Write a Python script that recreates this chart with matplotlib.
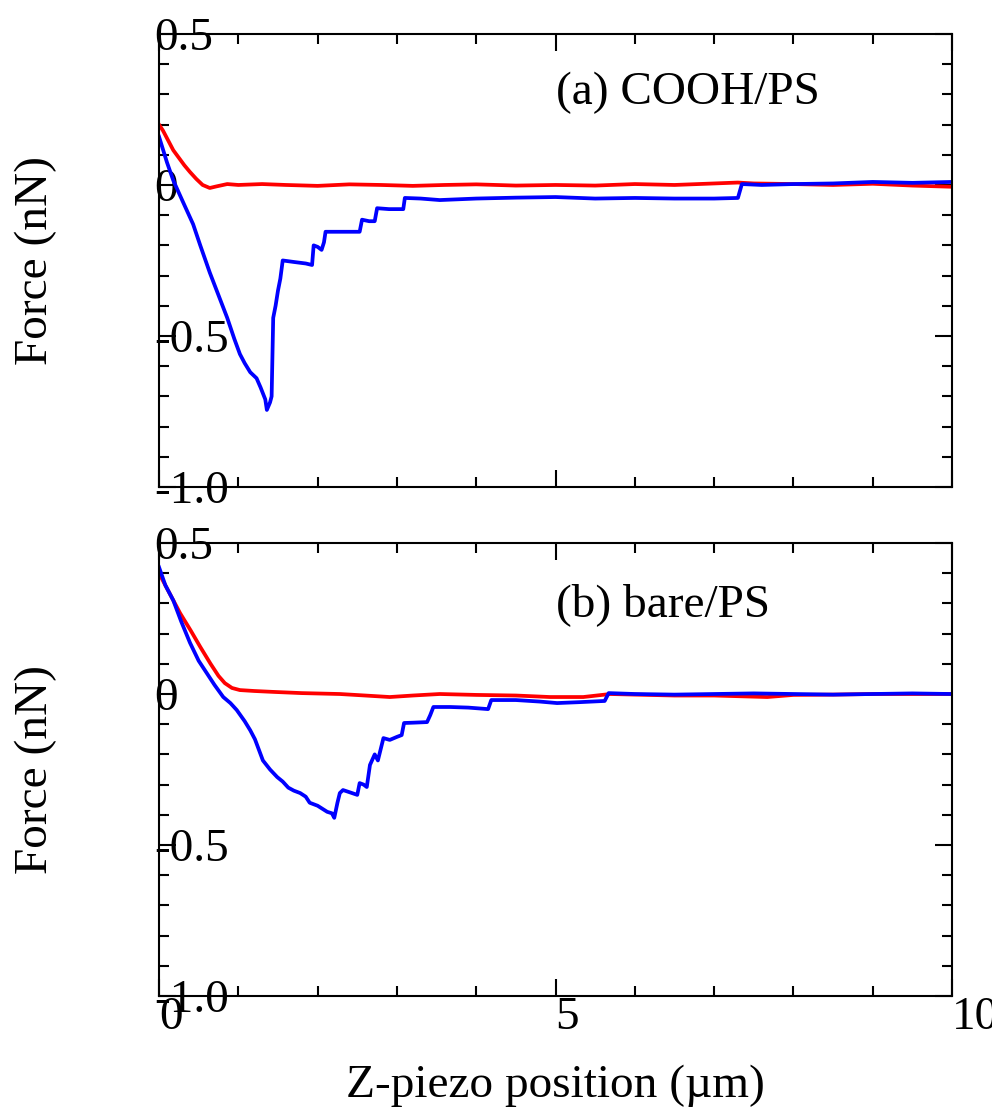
import matplotlib
matplotlib.use('Agg')
import matplotlib.pyplot as plt
from matplotlib.ticker import MultipleLocator

# (a) COOH/PS
a_red_x = [0, 0.05, 0.1, 0.18, 0.25, 0.32, 0.39, 0.47, 0.55, 0.64, 0.72, 0.86, 1.0, 1.3,
           1.6, 2.0, 2.4, 2.8, 3.2, 3.6, 4.0, 4.5, 5.0, 5.5, 6.0, 6.5, 7.0, 7.3, 7.5, 8.0,
           8.5, 9.0, 9.5, 10.0]
a_red_y = [0.20, 0.18, 0.155, 0.115, 0.09, 0.065, 0.043, 0.02, 0.0, -0.01, -0.005, 0.003,
           0.0, 0.003, 0.0, -0.003, 0.002, 0.0, -0.003, 0.0, 0.002, -0.002, 0.0, -0.002,
           0.003, 0.0, 0.005, 0.008, 0.005, 0.003, 0.0, 0.004, -0.002, -0.006]

a_blue_x = [0, 0.1, 0.18, 0.3, 0.43, 0.52, 0.64, 0.75, 0.86, 0.95, 1.02,
            1.08, 1.15, 1.23, 1.28, 1.34, 1.36, 1.40, 1.42, 1.44, 1.47, 1.50, 1.53, 1.56,
            1.7, 1.85, 1.93, 1.95, 2.0, 2.05, 2.08, 2.1, 2.3, 2.53, 2.56, 2.65, 2.72, 2.75,
            2.9, 3.08, 3.1, 3.3, 3.54, 4.0, 4.5, 5.0, 5.5, 6.0, 6.5, 7.0, 7.3, 7.35, 7.6,
            8.0, 8.5, 9.0, 9.5, 10.0]
a_blue_y = [0.16, 0.075, 0.015, -0.055, -0.13, -0.2, -0.29, -0.365, -0.44,
            -0.51, -0.56, -0.59, -0.62, -0.64, -0.67, -0.71, -0.745, -0.72, -0.70, -0.44,
            -0.40, -0.35, -0.31, -0.25, -0.255, -0.26, -0.265, -0.20, -0.205, -0.215,
            -0.19, -0.155, -0.155, -0.155, -0.115, -0.12, -0.12, -0.077, -0.08, -0.08,
            -0.043, -0.045, -0.05, -0.045, -0.042, -0.04, -0.045, -0.043, -0.045, -0.045,
            -0.043, 0.003, 0.0, 0.003, 0.005, 0.01, 0.007, 0.01]

# (b) bare/PS
b_red_x = [0, 0.1, 0.265, 0.4, 0.52, 0.65, 0.75, 0.83, 0.92, 1.02, 1.2, 1.44, 1.8, 2.28,
           2.6, 2.91, 3.2, 3.54, 4.0, 4.5, 4.93, 5.35, 5.69, 6.0, 6.5, 7.0, 7.67, 8.0, 8.5,
           9.0, 9.5, 10.0]
b_red_y = [0.40, 0.35, 0.268, 0.21, 0.156, 0.10, 0.06, 0.036, 0.02, 0.013, 0.01, 0.007,
           0.003, 0.0, -0.005, -0.01, -0.005, 0.0, -0.003, -0.005, -0.01, -0.01, 0.0,
           -0.002, -0.005, -0.005, -0.01, -0.003, -0.002, 0.0, 0.0, 0.0]

b_blue_x = [0, 0.08, 0.18, 0.28, 0.39, 0.5, 0.6, 0.7, 0.81, 0.9, 0.98, 1.08, 1.15, 1.21,
            1.31, 1.4, 1.49, 1.56, 1.63, 1.7, 1.78, 1.85, 1.9, 2.0, 2.12, 2.18, 2.21, 2.25,
            2.28, 2.32, 2.4, 2.5, 2.53, 2.58, 2.62, 2.66, 2.72, 2.76, 2.83, 2.91, 3.0, 3.06,
            3.09, 3.2, 3.38, 3.42, 3.46, 3.67, 3.9, 4.15, 4.19, 4.5, 4.8, 5.02, 5.3, 5.62,
            5.67, 6.0, 6.5, 7.0, 7.5, 8.0, 8.5, 9.0, 9.5, 10.0]
b_blue_y = [0.42, 0.36, 0.31, 0.24, 0.17, 0.11, 0.07, 0.03, -0.01, -0.03, -0.053, -0.09,
            -0.12, -0.15, -0.22, -0.25, -0.275, -0.29, -0.31, -0.32, -0.328, -0.34, -0.36,
            -0.37, -0.39, -0.395, -0.41, -0.36, -0.328, -0.318, -0.325, -0.334, -0.295,
            -0.30, -0.308, -0.235, -0.2, -0.22, -0.146, -0.152, -0.142, -0.136, -0.096,
            -0.095, -0.093, -0.07, -0.043, -0.043, -0.045, -0.05, -0.02, -0.02, -0.025,
            -0.03, -0.027, -0.023, 0.003, 0.0, -0.002, 0.0, 0.002, 0.0, -0.002, 0.0, 0.002,
            0.0]

y_ticks = [0.5, 0.0, -0.5, -1.0]
y_labels = ['0.5', '0', '-0.5', '-1.0']
x_ticks = [0, 5, 10]
x_labels = ['0', '5', '10']
panel_titles = ['(a) COOH/PS', '(b) bare/PS']

plt.rcParams['font.family'] = ['Liberation Serif', 'DejaVu Serif']
plt.rcParams['font.size'] = 34
plt.rcParams['axes.unicode_minus'] = False
plt.rcParams['axes.linewidth'] = 1.5


def _style(ax, bottom_labels):
    ax.set_xlim(0, 10)
    ax.set_ylim(-1.0, 0.5)
    ax.set_yticks(y_ticks, y_labels, ha='left')
    if bottom_labels:
        ax.set_xticks(x_ticks, x_labels, ha='left')
    else:
        ax.set_xticks(x_ticks)
        ax.tick_params(labelbottom=False)
    ax.xaxis.set_minor_locator(MultipleLocator(1))
    ax.yaxis.set_minor_locator(MultipleLocator(0.1))
    ax.tick_params(which='both', direction='in', top=True, right=True, width=1.5)
    ax.tick_params(which='major', length=12)
    ax.tick_params(which='minor', length=7)
    ax.tick_params(axis='y', pad=3.5)
    ax.tick_params(axis='x', pad=0.5)
    ax.set_ylabel('Force (nN)', va='baseline')
    ax.yaxis.set_label_coords(-0.141, 0.5)


def force_curves():
    fig = plt.figure(figsize=(9.92, 11.10), dpi=100)
    ax_a = fig.add_axes([0.1603, 0.5613, 0.7994, 0.4081])
    ax_b = fig.add_axes([0.1603, 0.1027, 0.7994, 0.4081])

    ax_a.plot(a_red_x, a_red_y, color='#ff0000', lw=2.7)
    ax_a.plot(a_blue_x, a_blue_y, color='#0000ff', lw=2.7)
    ax_b.plot(b_red_x, b_red_y, color='#ff0000', lw=2.7)
    ax_b.plot(b_blue_x, b_blue_y, color='#0000ff', lw=2.7)

    _style(ax_a, False)
    _style(ax_b, True)

    ax_a.text(0.5006, 0.845, panel_titles[0], transform=ax_a.transAxes,
              ha='left', va='baseline')
    ax_b.text(0.5006, 0.839, panel_titles[1], transform=ax_b.transAxes,
              ha='left', va='baseline')

    ax_b.set_xlabel('Z-piezo position (\u00b5m)', va='baseline')
    ax_b.xaxis.set_label_coords(0.5, -0.223)

    fig.savefig('out.png', dpi=100)


if __name__ == '__main__':
    force_curves()
